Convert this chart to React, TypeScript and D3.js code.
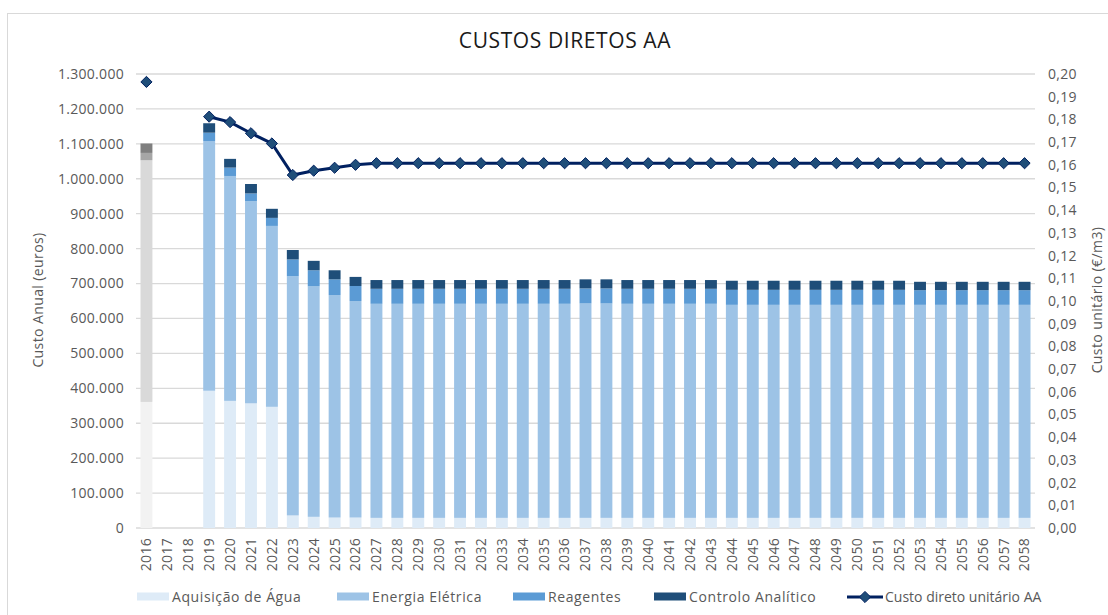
import React from "react";
import * as d3 from "d3";

const years = [
  "2016","2017","2018","2019","2020","2021","2022","2023","2024","2025","2026",
  "2027","2028","2029","2030","2031","2032","2033","2034","2035","2036","2037",
  "2038","2039","2040","2041","2042","2043","2044","2045","2046","2047","2048",
  "2049","2050","2051","2052","2053","2054","2055","2056","2057","2058"
];
// values in thousand euros
const aquisicaoAgua = [361,null,null,393,364,357,347,36,32,30,30,
  29,29,29,29,29,29,29,29,29,29,29,
  29,29,29,29,29,29,29,29,29,29,29,
  29,29,29,29,29,29,29,29,29,29];
const energiaEletrica = [692,null,null,715,644,579,518,685,660,637,620,
  613,613,613,613,613,613,613,613,613,613,614,
  614,613,613,613,613,613,610,610,610,610,610,
  610,610,610,610,610,610,610,610,610,610];
const reagentes = [21,null,null,24,24,22,23,48,46,45,43,
  43,43,43,43,43,43,43,43,43,43,43,
  43,43,43,43,43,43,43,43,43,43,43,
  43,43,43,43,42,42,42,42,42,42];
const controloAnalitico = [27,null,null,27,25,27,26,27,27,26,26,
  25,25,25,25,25,25,25,25,25,25,26,
  26,25,25,25,25,25,26,26,26,26,26,
  26,26,26,26,24,24,24,24,24,24];
const custoUnitario = [0.1965,null,null,0.1812,0.1788,0.1739,0.1694,0.1555,0.1574,0.1587,0.1600,
  0.1607,0.1607,0.1607,0.1607,0.1607,0.1607,0.1607,0.1607,0.1607,0.1607,0.1607,
  0.1607,0.1607,0.1607,0.1607,0.1607,0.1607,0.1607,0.1607,0.1607,0.1607,0.1607,
  0.1607,0.1607,0.1607,0.1607,0.1607,0.1607,0.1607,0.1607,0.1607,0.1607];
const historicYears = ["2016"];

const seriesNames = ["Aquisição de Água", "Energia Elétrica", "Reagentes", "Controlo Analítico"];
const lineName = "Custo direto unitário AA";
const title = "CUSTOS DIRETOS AA";
const leftTitle = "Custo Anual (euros)";
const rightTitle = "Custo unitário (€/m3)";

const colors = ["#deebf7", "#9dc3e6", "#5b9bd5", "#1f4e79"];
const grays = ["#f2f2f2", "#d9d9d9", "#a6a6a6", "#7f7f7f"];
const lineColor = "#002060";
const markerColor = "#1f4e79";
const textColor = "#595959";
const font = "'Open Sans', Lato, sans-serif";

const locale = d3.formatLocale({ decimal: ",", thousands: ".", grouping: [3], currency: ["", "€"] });
const fmtLeft = locale.format(",.0f");
const fmtRight = locale.format(",.2f");

export default function App() {
  const W = 1108, H = 615;
  const x = d3.scaleBand<string>().domain(years).range([136, 1035]).paddingInner(0.43).paddingOuter(0.215);
  const y = d3.scaleLinear().domain([0, 1300000]).range([528, 74]);
  const y2 = d3.scaleLinear().domain([0, 0.2]).range([528, 74]);
  const leftTicks = d3.range(0, 1300001, 100000);
  const rightTicks = d3.range(0, 21).map((i) => i / 100);

  const table = years.map((yr, i) => ({
    year: yr,
    a: aquisicaoAgua[i], e: energiaEletrica[i], r: reagentes[i], c: controloAnalitico[i],
  }));
  const valid = table.filter((d) => d.a != null);
  const stack = d3.stack<any>().keys(["a", "e", "r", "c"])(valid as any);

  const lineData = years.map((yr, i) => ({ year: yr, v: custoUnitario[i] }));
  const line = d3.line<any>()
    .defined((d) => d.v != null)
    .x((d) => (x(d.year) as number) + x.bandwidth() / 2)
    .y((d) => y2(d.v));
  const diamond = d3.symbol(d3.symbolDiamond2, 80)();

  const legendItems = [
    { x: 137, label: seriesNames[0], color: colors[0] },
    { x: 337, label: seriesNames[1], color: colors[1] },
    { x: 513, label: seriesNames[2], color: colors[2] },
    { x: 654, label: seriesNames[3], color: colors[3] },
  ];

  return (
    <svg width={W} height={H} style={{ position: "absolute", left: 0, top: 0, background: "#fff" }} fontFamily={font}>
      <rect x={7.5} y={13.5} width={W + 10} height={H + 10} fill="none" stroke="#d9d9d9" />
      <text x={565} y={48} textAnchor="middle" fontSize={21} letterSpacing={0.6} fill="#1a1a1a">{title}</text>
      {leftTicks.map((t) => (
        <g key={t}>
          <line x1={136} x2={1035} y1={y(t)} y2={y(t)} stroke="#d9d9d9" strokeWidth={1.3} />
          <text x={124} y={y(t)} dy="0.35em" textAnchor="end" fontSize={14} letterSpacing={0.3} fill={textColor}>{fmtLeft(t)}</text>
        </g>
      ))}
      {rightTicks.map((t) => (
        <text key={t} x={1048} y={y2(t)} dy="0.35em" textAnchor="start" fontSize={14} letterSpacing={0.3} fill={textColor}>{fmtRight(t)}</text>
      ))}
      {stack.map((layer, li) => (
        <g key={li}>
          {layer.map((d: any) => {
            const hist = historicYears.includes(d.data.year);
            return (
              <rect key={d.data.year}
                x={x(d.data.year)} width={x.bandwidth()}
                y={y(d[1] * 1000)} height={y(d[0] * 1000) - y(d[1] * 1000)}
                fill={hist ? grays[li] : colors[li]} />
            );
          })}
        </g>
      ))}
      <path d={line(lineData) || ""} fill="none" stroke={lineColor} strokeWidth={3} />
      {lineData.filter((d) => d.v != null).map((d) => (
        <path key={d.year} d={diamond!} transform={`translate(${(x(d.year) as number) + x.bandwidth() / 2},${y2(d.v as number)})`}
          fill={markerColor} stroke={lineColor} strokeWidth={1} />
      ))}
      {years.map((yr) => {
        const cx = (x(yr) as number) + x.bandwidth() / 2;
        return (
          <text key={yr} transform={`translate(${cx},538) rotate(-90)`} dy="0.35em" textAnchor="end" fontSize={14} letterSpacing={0.3} fill={textColor}>{yr}</text>
        );
      })}
      <text transform={`translate(38,300) rotate(-90)`} textAnchor="middle" dy="0.35em" fontSize={14} letterSpacing={0.4} fill={textColor}>{leftTitle}</text>
      <text transform={`translate(1097,300) rotate(-90)`} textAnchor="middle" dy="0.35em" fontSize={14} letterSpacing={0.4} fill={textColor}>{rightTitle}</text>
      {legendItems.map((it) => (
        <g key={it.label}>
          <rect x={it.x} y={592.5} width={32} height={8} fill={it.color} />
          <text x={it.x + 35} y={597} dy="0.35em" fontSize={14} letterSpacing={0.6} fill={textColor}>{it.label}</text>
        </g>
      ))}
      <line x1={847} x2={883} y1={597} y2={597} stroke={lineColor} strokeWidth={3} />
      <path d={diamond!} transform="translate(865,597)" fill={markerColor} stroke={lineColor} strokeWidth={1} />
      <text x={885} y={597} dy="0.35em" fontSize={14} fill={textColor}>{lineName}</text>
    </svg>
  );
}
